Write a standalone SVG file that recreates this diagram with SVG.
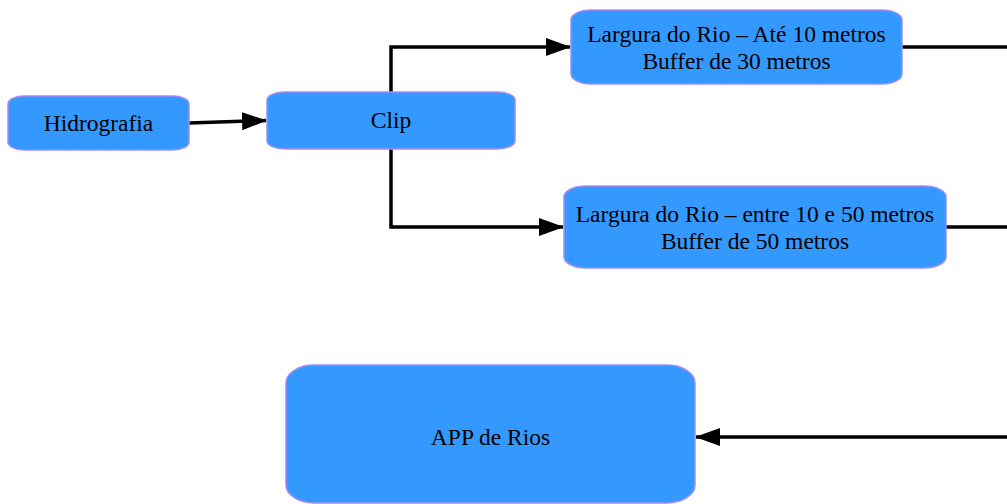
<svg xmlns="http://www.w3.org/2000/svg" width="1007" height="504" viewBox="0 0 1007 504">
<defs>
<style>
.node{fill:#3399ff;stroke:#9f8ff5;stroke-width:1.5}
.lbl{font-family:"Liberation Serif","Times New Roman",serif;font-size:23.5px;fill:#000;text-anchor:middle}
.edge{fill:none;stroke:#000;stroke-width:3.5}
</style>
<marker id="arr" markerWidth="26" markerHeight="20" refX="24" refY="9" orient="auto" markerUnits="userSpaceOnUse">
<path d="M0,0 L25,9 L0,18 Z" fill="#000"/>
</marker>
</defs>
<rect width="1007" height="504" fill="#fff"/>
<g id="connectors">
<path class="edge" d="M189,123 L266,120.5" marker-end="url(#arr)"/>
<path class="edge" d="M391,92 L391,47 L570,47" marker-end="url(#arr)"/>
<path class="edge" d="M391,149 L391,227 L563,227" marker-end="url(#arr)"/>
<path class="edge" d="M902,47 L1007,47"/>
<path class="edge" d="M946,227 L1007,227"/>
<path class="edge" d="M1007,437 L696,437" marker-end="url(#arr)"/>
</g>
<g id="hidrografia">
<rect class="node" x="8" y="96" width="181" height="54" rx="16" ry="8"/>
<text class="lbl" x="98.5" y="131">Hidrografia</text>
</g>
<g id="clip">
<rect class="node" x="267" y="92" width="248" height="57" rx="18" ry="8"/>
<text class="lbl" x="391" y="128">Clip</text>
</g>
<g id="largura1">
<rect class="node" x="571" y="10" width="331" height="74" rx="20" ry="10"/>
<text class="lbl" x="736.5" y="42">Largura do Rio – Até 10 metros</text>
<text class="lbl" x="736.5" y="69">Buffer de 30 metros</text>
</g>
<g id="largura2">
<rect class="node" x="564" y="186" width="382" height="82" rx="22" ry="11"/>
<text class="lbl" x="755" y="222">Largura do Rio – entre 10 e 50 metros</text>
<text class="lbl" x="755" y="249">Buffer de 50 metros</text>
</g>
<g id="app">
<rect class="node" x="286" y="365" width="409" height="138" rx="28" ry="18"/>
<text class="lbl" x="490.5" y="445">APP de Rios</text>
</g>
</svg>
